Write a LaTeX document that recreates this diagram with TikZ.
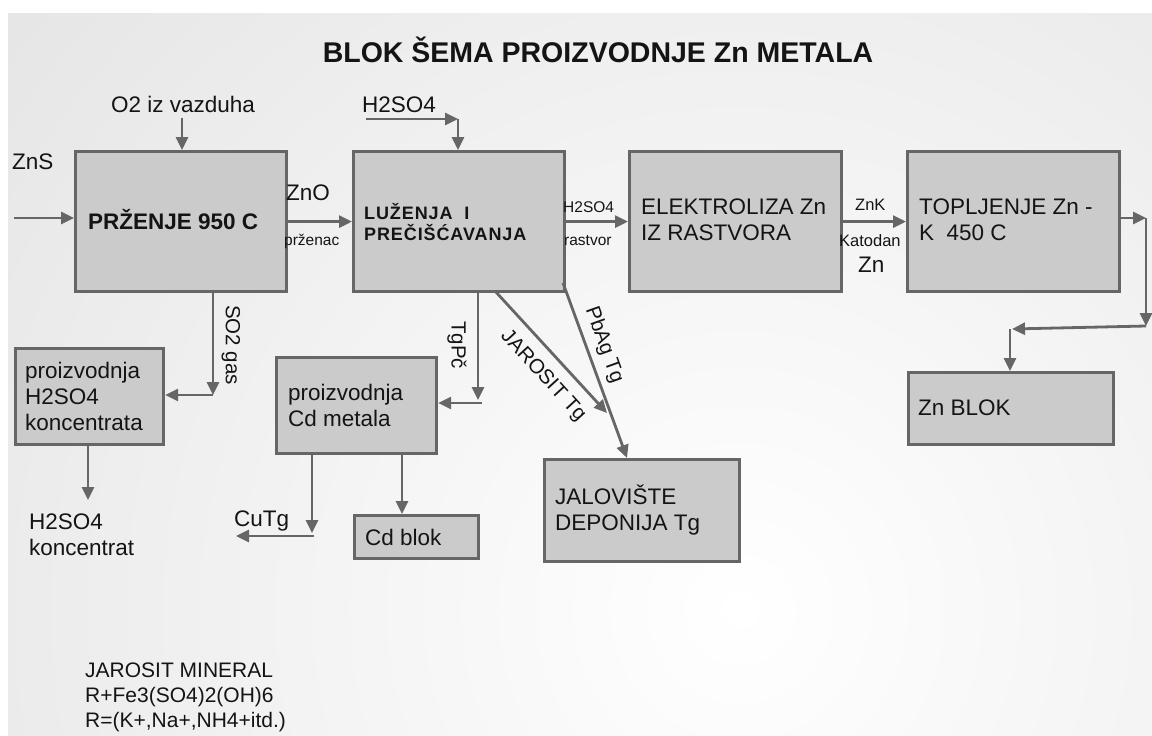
\documentclass[tikz,border=0pt]{standalone}
\usepackage{fontspec}
\setmainfont{Liberation Sans}
\usetikzlibrary{arrows.meta,calc}
\definecolor{txtc}{HTML}{141414}
\definecolor{boxfill}{HTML}{CBCBCB}
\definecolor{boxline}{HTML}{666666}
\definecolor{arrc}{HTML}{666666}
\definecolor{bgout}{HTML}{CCCCCC}
\tikzset{
  blok/.style={draw=boxline, fill=boxfill, line width=3.2pt, rectangle, inner sep=0pt, anchor=north west},
  arr/.style={draw=arrc, line width=2.8pt, -{Triangle[length=13pt,width=12pt]}},
  txt/.style={font=\fontsize{22.5}{26}\selectfont, text=txtc, inner sep=0pt, anchor=west, align=left},
  sml/.style={font=\fontsize{15.5}{18}\selectfont, text=txtc, inner sep=0pt, anchor=west},
  mid/.style={font=\fontsize{16.5}{19}\selectfont, text=txtc, inner sep=0pt, anchor=west},
  rot/.style={font=\fontsize{20.5}{23}\selectfont, text=txtc, inner sep=0pt}
}
\begin{document}
\begin{tikzpicture}[x=1pt,y=-1pt]
\useasboundingbox (0,0) rectangle (1152,736);
\fill[white] (0,0) rectangle (1152,736);
\begin{scope}
  \clip (8,13) rectangle (1152,736);
  \shade[inner color=white, outer color=bgout] (740,610) circle (1900);
\end{scope}

% title
\node[font=\bfseries\fontsize{28.5}{32}\selectfont, text=txtc, inner sep=0pt] (title) at (598,50) {BLOK ŠEMA PROIZVODNJE Zn METALA};

% boxes
\node[blok, minimum width=211pt, minimum height=140pt] (bP) at (74,150) {};
\node[blok, minimum width=211pt, minimum height=140pt] (bL) at (352,150) {};
\node[blok, minimum width=212pt, minimum height=140pt] (bE) at (628,150) {};
\node[blok, minimum width=212pt, minimum height=140pt] (bT) at (906,150) {};
\node[blok, minimum width=148pt, minimum height=96pt] (bH) at (14,347) {};
\node[blok, minimum width=160pt, minimum height=96pt] (bC) at (275,356) {};
\node[blok, minimum width=124pt, minimum height=43pt] (bCd) at (353,514) {};
\node[blok, minimum width=195pt, minimum height=102pt] (bJ) at (543,458) {};
\node[blok, minimum width=205pt, minimum height=72pt] (bZ) at (907,371) {};

% box texts
\node[txt, font=\bfseries\fontsize{22.5}{26}\selectfont] (tP) at (88,220) {PRŽENJE 950 C};
\node[txt, font=\bfseries\fontsize{18}{21}\selectfont\addfontfeatures{LetterSpace=5}] (tL) at (364,222) {LUŽENJA\ \ I\\PREČIŠĆAVANJA};
\node[txt] (tE) at (641,220) {ELEKTROLIZA Zn\\IZ RASTVORA};
\node[txt] (tT) at (919,220) {TOPLJENJE Zn -\\K\ \ 450 C};
\node[txt] (tH) at (25,396) {proizvodnja\\H2SO4\\koncentrata};
\node[txt] (tC) at (288,405) {proizvodnja\\Cd metala};
\node[txt] (tCd) at (365,537) {Cd blok};
\node[txt] (tJ) at (555,510) {JALOVIŠTE\\DEPONIJA Tg};
\node[txt] (tZ) at (918,408) {Zn BLOK};

% free labels
\node[txt, anchor=center] (lO2) at (183,104) {O2 iz vazduha};
\node[txt] (lZnS) at (12,162) {ZnS};
\node[txt] (lZnO) at (286,193) {ZnO};
\node[sml] (lPr) at (284,241) {prženac};
\node[txt] (lH1) at (362,105) {H2SO4};
\node[sml] (lH2) at (563,207) {H2SO4};
\node[sml] (lRa) at (564,241) {rastvor};
\node[mid] (lZnK) at (855,205) {ZnK};
\node[mid] (lKa) at (839,241) {Katodan};
\node[txt] (lZn) at (858,265) {Zn};
\node[txt] (lHk) at (29,535) {H2SO4\\koncentrat};
\node[txt] (lCu) at (234,521) {CuTg};
\node[rot, rotate=-90] (lSO2) at (231,345) {SO2 gas};
\node[rot, rotate=-90] (lTg) at (457,345) {TgPč};
\node[rot, rotate=-47.7] (lJar) at (543,376) {JAROSIT Tg};
\node[rot, rotate=-70.3] (lPb) at (604,345) {PbAg Tg};
\node[txt, font=\fontsize{21}{25}\selectfont] (lMin) at (85,697) {JAROSIT MINERAL\\R+Fe3(SO4)2(OH)6\\R=(K+,Na+,NH4+itd.)};

% coordinates
\coordinate (o2) at (182,118);
\coordinate (zns) at (14,218);
\coordinate (h1) at (366,119);
\coordinate (h2) at (458,119);
\coordinate (r1) at (1146,218);
\coordinate (r2) at (1146,326);
\coordinate (r3) at (1012,329);
\coordinate (r4) at (1010,329);
\coordinate (s1) at (213,395);
\coordinate (hk) at (88,500);
\coordinate (t1) at (478,400);
\coordinate (t2) at (482,403);
\coordinate (c1) at (312,533);
\coordinate (c2) at (314,536);
\coordinate (cu) at (236,536);
\coordinate (cdx) at (402,480);
\coordinate (ja) at (607,413);
\coordinate (j0) at (495,291);
\coordinate (p0) at (563,283);
\coordinate (p1) at (627,458);

% connectors
\draw[arr] (o2) -- (o2 |- bP.north);
\draw[arr] (zns) -- (bP.west |- zns);
\draw[arr] (bP.east) -- (bL.west);
\draw[arr] (h1) -- (h2);
\draw[arr] (h2) -- (h2 |- bL.north);
\draw[arr] (bL.east) -- (bE.west);
\draw[arr] (bE.east) -- (bT.west);
\draw[arr] (bT.east |- r1) -- (r1);
\draw[arr] (r1) -- (r2);
\draw[arr] (r2) -- (r3);
\draw[arr] (r4) -- (r4 |- bZ.north);
\draw[arr] (bP.south -| s1) -- (s1);
\draw[arr] (s1) -- (bH.east |- s1);
\draw[arr] (bH.south -| hk) -- (hk);
\draw[arr] (bL.south -| t1) -- (t1);
\draw[arr] (t2) -- (bC.east |- t2);
\draw[arr] (bC.south -| c1) -- (c1);
\draw[arr] (c2) -- (cu);
\draw[arr] (bC.south -| cdx) -- (bCd.north -| cdx);
\draw[arr] (j0) -- (ja);
\draw[arr] (p0) -- (p1);
\end{tikzpicture}
\end{document}
